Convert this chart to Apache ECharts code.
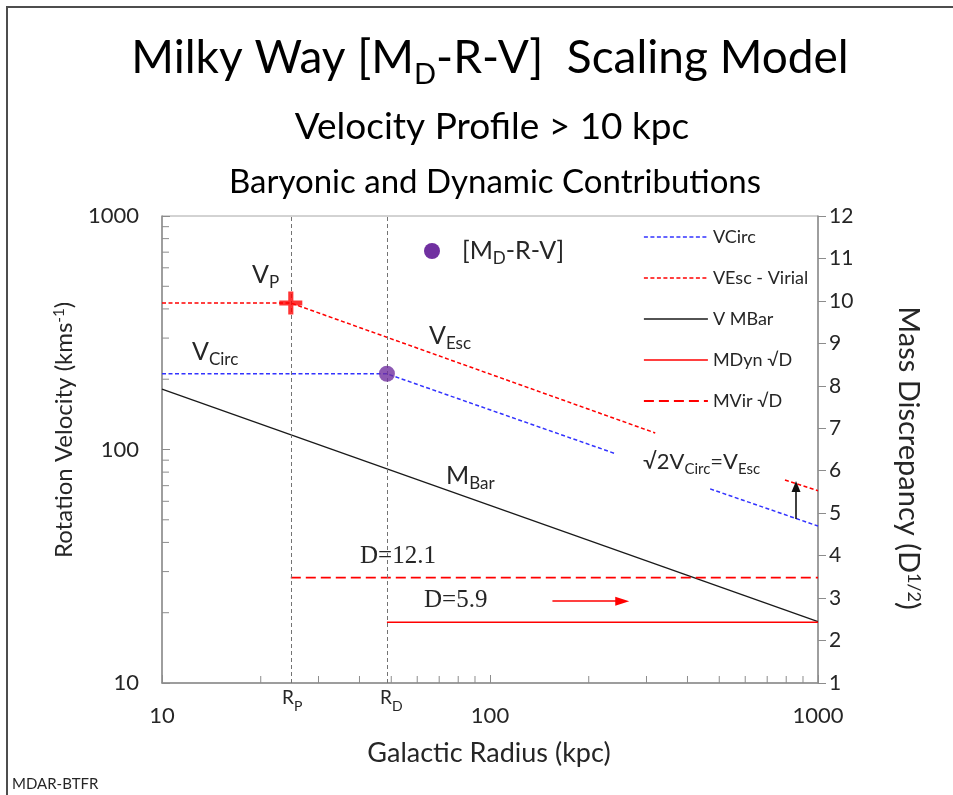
<!DOCTYPE html>
<html>
<head>
<meta charset="utf-8">
<script src="https://cdn.jsdelivr.net/npm/echarts@6.0.0/dist/echarts.min.js"></script>
<style>
html,body{margin:0;padding:0;background:#ffffff;}
#chart{width:953px;height:795px;}
</style>
</head>
<body>
<div id="chart"></div>
<script>
// ---------- values ----------
const minorTickValues = [20, 30, 40, 50, 60, 70, 80, 90, 200, 300, 400, 500, 600, 700, 800, 900];
const radiusP = 24.7;
const radiusD = 48.5;
const vCircRadius   = [10, 48.5, 241, null, 469, 1000];
const vCircVelocity = [211, 211, 96, null, 67.8, 47.0];
const vEscRadius    = [10, 24.7, 319, null, 793, 1000];
const vEscVelocity  = [424, 424, 117.7, null, 74, 66.6];
const mBarRadius    = [10, 1000];
const mBarVelocity  = [181.5, 18.3];
const mDynRadius    = [48.5, 1000];
const mDynSqrtD     = [2.43, 2.43];
const mVirRadius    = [24.7, 1000];
const mVirSqrtD     = [3.48, 3.48];
const mdrvPoint     = [48.5, 211];
const vPeakPoint    = [24.7, 424];
const escArrowRadius   = 857;
const escArrowVelocity = [50.4, 69.5];
const dynArrowRadius   = [155, 253];
const dynArrowVelocity = 22.4;
const legendNames = ['VCirc', 'VEsc - Virial', 'V MBar', 'MDyn \u221AD', 'MVir \u221AD'];

// ---------- styling ----------
const FONT = 'Lato';
const TXT = '#262626';
const AX = '#8c8c8c';
const BLUE = '#3333FF';
const RED = '#FF0000';
const PURPLE = '#7030A0';
const SHORT_DASH = [4, 2.5];
const LONG_DASH = [10, 5];

const pairs = (xs, ys) => xs.map((x, i) => (x == null ? ['-', '-'] : [x, ys[i]]));

const chart = echarts.init(document.getElementById('chart'), null, { renderer: 'canvas' });

function tickSeries(horizontal) {
  return {
    type: 'custom',
    silent: true,
    z: 5,
    data: minorTickValues.map(v => (horizontal ? [v, 10] : [10, v])),
    renderItem: function (params, api) {
      const p = api.coord([api.value(0), api.value(1)]);
      return {
        type: 'line',
        shape: horizontal
          ? { x1: p[0], y1: p[1], x2: p[0], y2: p[1] - 7 }
          : { x1: p[0], y1: p[1], x2: p[0] + 7, y2: p[1] },
        style: { stroke: AX, lineWidth: 1 }
      };
    }
  };
}

function rt(x, y, text, rich, opts) {
  return {
    type: 'text', x: x, y: y, silent: true, z: 50,
    style: Object.assign({
      text: text, rich: rich,
      fontFamily: FONT, fontSize: 25, fill: TXT,
      textAlign: 'left', verticalAlign: 'middle', textVerticalAlign: 'middle'
    }, opts || {})
  };
}
function richSet(mainSize, subSize, shift, color) {
  return {
    n: { fontFamily: FONT, fontSize: mainSize, fill: color || TXT, color: color || TXT },
    s: { fontFamily: FONT, fontSize: subSize, fill: color || TXT, color: color || TXT, padding: [shift, 0, 0, 0] },
    u: { fontFamily: FONT, fontSize: subSize, fill: color || TXT, color: color || TXT, padding: [0, 0, shift, 0] }
  };
}

const option = {
  backgroundColor: '#ffffff',
  animation: false,
  grid: {
    left: 162, top: 216, width: 656, height: 467,
    show: true, borderColor: '#a6a6a6', borderWidth: 1,
    containLabel: false, outerBoundsMode: 'none'
  },
  xAxis: {
    type: 'log', logBase: 10, min: 10, max: 1000,
    axisLine: { show: true, lineStyle: { color: AX, width: 1.5 } },
    axisTick: { show: true, inside: true, length: 8, lineStyle: { color: AX } },
    axisLabel: { margin: 22, fontFamily: FONT, fontSize: 22, color: TXT, formatter: v => String(v) },
    splitLine: { show: false },
    minorTick: { show: false }
  },
  yAxis: [
    {
      type: 'log', logBase: 10, min: 10, max: 1000,
      axisLine: { show: true, lineStyle: { color: AX, width: 1.5 } },
      axisTick: { show: true, inside: true, length: 8, lineStyle: { color: AX } },
      axisLabel: { margin: 23, fontFamily: FONT, fontSize: 22, color: TXT, formatter: v => String(v) },
      splitLine: { show: false }
    },
    {
      type: 'value', position: 'right', min: 1, max: 12, interval: 1,
      axisLine: { show: true, lineStyle: { color: AX, width: 1.5 } },
      axisTick: { show: true, inside: false, length: 8, lineStyle: { color: AX } },
      axisLabel: { margin: 11, fontFamily: FONT, fontSize: 21, color: TXT },
      splitLine: { show: false }
    }
  ],
  legend: {
    orient: 'vertical', left: 638, top: 223,
    itemWidth: 64, itemHeight: 14, itemGap: 23,
    selectedMode: false,
    itemStyle: { opacity: 0 },
    textStyle: { fontFamily: FONT, fontSize: 18, color: TXT },
    data: [
      { name: legendNames[0], lineStyle: { color: BLUE, width: 1.5, type: SHORT_DASH } },
      { name: legendNames[1], lineStyle: { color: RED, width: 1.5, type: SHORT_DASH } },
      { name: legendNames[2], lineStyle: { color: '#1a1a1a', width: 1.3, type: 'solid' } },
      { name: legendNames[3], lineStyle: { color: RED, width: 1.5, type: 'solid' } },
      { name: legendNames[4], lineStyle: { color: RED, width: 1.8, type: LONG_DASH } }
    ]
  },
  series: [
    {
      name: legendNames[2], type: 'line', symbol: 'none', z: 3,
      data: pairs(mBarRadius, mBarVelocity),
      lineStyle: { color: '#1a1a1a', width: 1.3 }, itemStyle: { color: '#1a1a1a' },
      markLine: {
        silent: true, animation: false, symbol: ['none', 'none'], label: { show: false },
        emphasis: { disabled: true },
        data: [
          { xAxis: radiusP, lineStyle: { color: '#737373', type: [4, 3], width: 1 } },
          { xAxis: radiusD, lineStyle: { color: '#737373', type: [4, 3], width: 1 } },
          [
            { coord: [escArrowRadius, escArrowVelocity[0]], symbol: 'none', lineStyle: { color: '#111', width: 1.6, type: 'solid' } },
            { coord: [escArrowRadius, escArrowVelocity[1]], symbol: 'triangle', symbolSize: [9, 11], lineStyle: { color: '#111', width: 1.6, type: 'solid' } }
          ],
          [
            { coord: [dynArrowRadius[0], dynArrowVelocity], symbol: 'none', lineStyle: { color: RED, width: 1.6, type: 'solid' } },
            { coord: [dynArrowRadius[1], dynArrowVelocity], symbol: 'triangle', symbolSize: [9, 14], lineStyle: { color: RED, width: 1.6, type: 'solid' } }
          ]
        ]
      }
    },
    {
      name: legendNames[0], type: 'line', symbol: 'none', z: 3, connectNulls: false,
      data: pairs(vCircRadius, vCircVelocity),
      lineStyle: { color: BLUE, width: 1.5, type: SHORT_DASH }, itemStyle: { color: BLUE }
    },
    {
      name: legendNames[1], type: 'line', symbol: 'none', z: 3, connectNulls: false,
      data: pairs(vEscRadius, vEscVelocity),
      lineStyle: { color: RED, width: 1.5, type: SHORT_DASH }, itemStyle: { color: RED }
    },
    {
      name: legendNames[3], type: 'line', symbol: 'none', z: 3, yAxisIndex: 1,
      data: pairs(mDynRadius, mDynSqrtD),
      lineStyle: { color: RED, width: 1.5 }, itemStyle: { color: RED }
    },
    {
      name: legendNames[4], type: 'line', symbol: 'none', z: 3, yAxisIndex: 1,
      data: pairs(mVirRadius, mVirSqrtD),
      lineStyle: { color: RED, width: 1.8, type: LONG_DASH }, itemStyle: { color: RED }
    },
    {
      name: '[MD-R-V]', type: 'scatter', z: 6,
      data: [mdrvPoint], symbol: 'circle', symbolSize: 16,
      itemStyle: { color: PURPLE }
    },
    {
      name: 'VP', type: 'scatter', z: 7,
      data: [vPeakPoint],
      symbol: 'path://M3.5,0h2v3.5h3.5v2h-3.5v3.5h-2v-3.5h-3.5v-2h3.5z', symbolSize: 23,
      itemStyle: { color: RED }
    },
    tickSeries(true),
    tickSeries(false)
  ],
  graphic: [
    { type: 'rect', silent: true, z: 0, shape: { x: 7, y: 7, width: 980, height: 820 }, style: { fill: 'none', stroke: '#4d4d4d', lineWidth: 2 } },
    rt(490, 58, '{n|Milky Way [M}{s|D}{n|-R-V]  Scaling Model}', richSet(46, 29, 34, '#000'), { textAlign: 'center' }),
    rt(492, 127, 'Velocity Profile > 10 kpc', null, { textAlign: 'center', fontSize: 37, fill: '#000' }),
    rt(495, 182, 'Baryonic and Dynamic Contributions', null, { textAlign: 'center', fontSize: 33, fill: '#000' }),
    // axis names
    Object.assign(rt(64, 430, '{n|Rotation Velocity (kms}{u|-1}{n|)}', richSet(24, 15, 10), { textAlign: 'center' }), { rotation: Math.PI / 2 }),
    rt(489, 753, 'Galactic Radius (kpc)', null, { textAlign: 'center', fontSize: 27 }),
    Object.assign(rt(908, 458, '{n|Mass Discrepancy (D}{u|1/2}{n|)}', richSet(29, 18, 12), { textAlign: 'center' }), { rotation: -Math.PI / 2 }),
    // R labels below the axis
    rt(282, 698, '{n|R}{s|P}', richSet(19, 14, 16)),
    rt(380, 698, '{n|R}{s|D}', richSet(19, 14, 16)),
    // curve labels
    rt(252, 275, '{n|V}{s|P}', richSet(25, 17, 16)),
    rt(192, 352, '{n|V}{s|Circ}', richSet(25, 17, 16)),
    rt(429, 336, '{n|V}{s|Esc}', richSet(25, 17, 16)),
    rt(446, 476, '{n|M}{s|Bar}', richSet(25, 17, 16)),
    rt(643, 462, '{n|\u221A2V}{s|Circ}{n|=V}{s|Esc}', richSet(22, 15, 14)),
    // marker key
    { type: 'circle', silent: true, z: 50, shape: { cx: 432, cy: 251, r: 8 }, style: { fill: PURPLE } },
    rt(462, 251, '{n|[M}{s|D}{n|-R-V]}', richSet(25, 17, 16)),
    // D labels
    rt(360, 556, 'D=12.1', null, { fontFamily: 'Liberation Serif', fontSize: 25 }),
    rt(424, 600, 'D=5.9', null, { fontFamily: 'Liberation Serif', fontSize: 25 }),
    rt(12, 784, 'MDAR-BTFR', null, { fontSize: 15 })
  ]
};
chart.setOption(option);
</script>
</body>
</html>
